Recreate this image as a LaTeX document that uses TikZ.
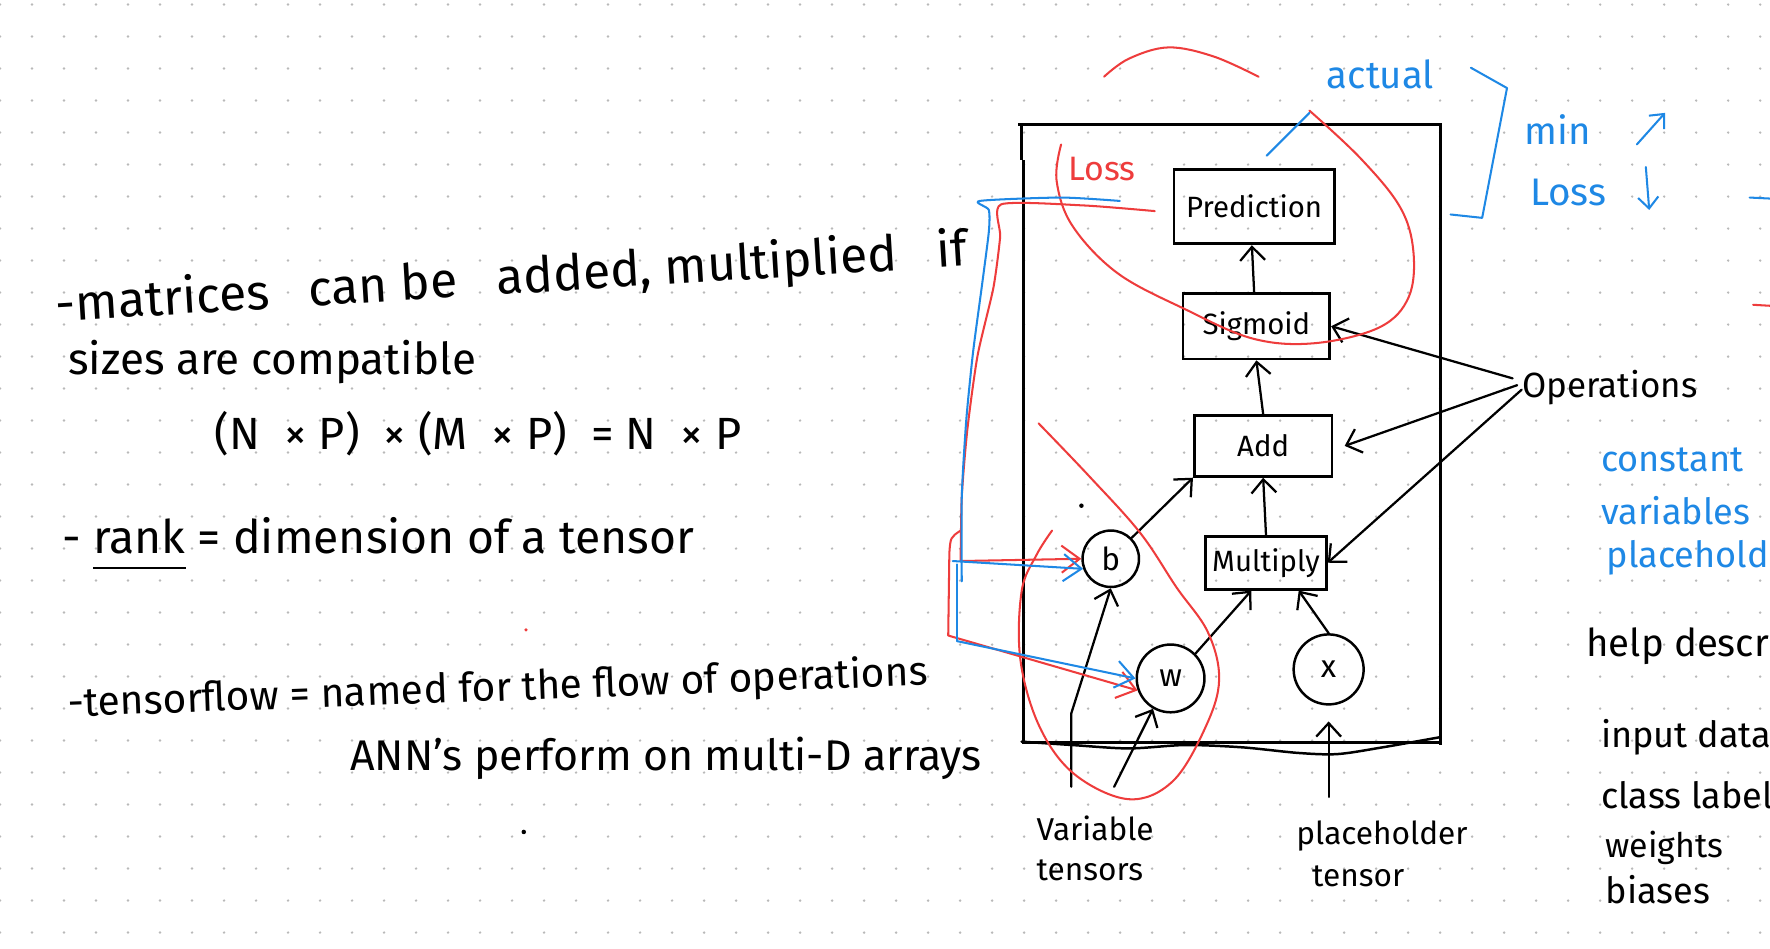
\documentclass[tikz,border=0pt]{standalone}
\usepackage{fontspec}
\setmainfont{Fira Sans}
\usetikzlibrary{arrows.meta}
\definecolor{inkblue}{RGB}{30,136,229}
\definecolor{inkred}{RGB}{238,60,60}
\definecolor{dotc}{RGB}{185,185,185}
\newcommand\myul[1]{\setbox0\hbox{#1}\rlap{\rule[-7pt]{\wd0}{0.9pt}}#1}
\begin{document}
\begin{tikzpicture}[x=0.5pt,y=-0.5pt,
  fs/.style={font=\fontsize{#1pt}{#1pt}\selectfont},
  txt/.style={inner sep=0pt, anchor=base west},
  ink/.style={line width=1pt, line cap=round, line join=round},
  redink/.style={ink, draw=inkred, line width=0.9pt},
  blueink/.style={ink, draw=inkblue, line width=0.9pt},
  arr/.style={ink, -{Straight Barb[length=6pt,width=11pt]}},
  carr/.style={-{Straight Barb[length=8pt,width=12pt]}},
  box/.style={draw, line width=1.2pt, inner sep=0pt, fs=13},
  circ/.style={draw, circle, line width=1.1pt, inner sep=0pt, fs=14},
  frame/.style={line width=1.3pt}
]
\useasboundingbox (0,0) rectangle (1568,840);
\clip (0,0) rectangle (1568,840);
\fill[white] (0,0) rectangle (1568,840);
% dot grid
\foreach \i in {0,...,56}{
  \foreach \j in {0,...,30}{
    \fill[dotc] (28.35*\i, 4+28.35*\j) circle (0.6pt);
  }
}
% left notes
\node[txt, fs=22, rotate=3.5] (l1) at (50,285) {-matrices\ \ \ can be\ \ \ added, multiplied\ \ \ if};
\node[txt, fs=19.5] (l2) at (60,332) {sizes are compatible};
\node[txt, fs=20] (l3) at (190,398) {(N\ \ × P)\ \ × (M\ \ × P)\ \ = N\ \ × P};
\node[txt, fs=20.5] (l4) at (55,490) {- \myul{rank} = dimension of a tensor};
\node[txt, fs=18, rotate=2.1] (l5) at (60,635) {-tensorflow = named for the flow of operations};
\node[txt, fs=19] (l6) at (310,683) {ANN's perform on multi-D arrays};
\fill (464,737) circle (1pt);
\fill[inkred] (466,558) circle (0.8pt);
\fill (958,448) circle (1pt);

% frame
\draw[frame] (902,110) -- (1276,110) -- (1276,660);
\draw[frame] (905,110) -- (905,142);
\draw[frame] (907,142) -- (907,658) -- (1276,658);
\draw[ink, line width=1.1pt] plot[smooth] coordinates {(905,657) (950,660) (1000,663) (1050,660) (1100,662) (1150,667) (1185,668) (1225,662) (1276,653)};

% graph nodes
\node[box, minimum width=71pt, minimum height=33pt] (pred) at (1111,183) {Prediction};
\node[box, minimum width=65pt, minimum height=29pt] (sig) at (1113,289) {Sigmoid};
\node[box, minimum width=61pt, minimum height=27pt] (add) at (1119,395) {Add};
\node[box, minimum width=53.5pt, minimum height=23.5pt] (mul) at (1121.5,498.5) {Multiply};
\node[circ, minimum size=25pt] (b) at (984,495) {b};
\node[circ, minimum size=30pt] (w) at (1037,601) {w};
\node[circ, minimum size=31pt] (x) at (1177,593) {x};

\draw[arr] ([xshift=-1pt]sig.north) -- ([xshift=-1pt]pred.south);
\draw[arr] (add.north) -- ([xshift=0pt]sig.south);
\draw[arr] (mul.north) -- (add.south);
\draw[arr] (b.north east) -- (add.south west);
\draw[arr] (w.north east) -- ([xshift=-6.5pt]mul.south);
\draw[arr] (x.north) -- ([xshift=14.5pt]mul.south);

% operations
\node[txt, fs=15.5] (ops) at (1348,352) {Operations};
\draw[arr] ([xshift=-4pt,yshift=4pt]ops.west) -- (sig.east);
\draw[arr] ([xshift=-2pt,yshift=1pt]ops.west) -- ([xshift=5pt]add.east);
\draw[arr] ([xshift=0pt,yshift=-1pt]ops.west) -- (mul.east);

% variable / placeholder labels
\node[txt, fs=14] (var) at (918,745) {Variable};
\node[txt, fs=14] (vart) at (918,780) {tensors};
\node[txt, fs=14] (ph) at (1148,748) {placeholder};
\node[txt, fs=14] (pht) at (1162,785) {tensor};
\coordinate (v1) at (949,697);
\coordinate (v1k) at (949,632);
\coordinate (v2) at (987,697);
\coordinate (p1) at (1177,706);
\draw[arr] (v1) -- (v1k) -- (b.south);
\draw[arr] (v2) -- (w.240);
\draw[arr, shorten >=7pt] (p1) -- (x.south);

% red annotations
\draw[redink] plot[smooth, tension=0.6] coordinates {(978,68) (1000,52) (1035,42) (1075,50) (1115,68)};
\draw[redink] plot[smooth, tension=0.6] coordinates {(1160,98) (1205,140) (1240,183) (1252,222) (1248,263) (1222,290) (1165,304) (1110,300) (1050,274) (990,242) (950,200) (936,160) (940,128)};
\draw[redink] plot[smooth, tension=0.6] coordinates {(920,375) (965,422) (1010,472) (1042,520) (1070,560) (1080,602) (1068,644) (1039,692) (1000,708) (952,686) (921,644) (904,585) (905,524) (918,492) (932,470)};
\node[txt, fs=15, text=inkred] (loss1) at (946,160) {Loss};
\draw[redink] plot[smooth, tension=0.4] coordinates {(1023,187) (960,182) (887,181) (886,210) (880,255) (866,315) (857,380) (852,440) (851,497)};
\coordinate (rb) at (851,497);
\draw[redink, carr] (rb) -- (b.west);
\coordinate (rw1) at (851,470);
\coordinate (rw2) at (840,563);
\draw[redink, carr] (rw1) .. controls (842,476) .. (841,490) -- (rw2) -- (w.200);

% blue annotations
\draw[blueink] plot[smooth, tension=0.4] coordinates {(992,178) (940,175) (868,178) (876,186) (876,205) (870,252) (862,312) (856,372) (852,440) (852,515)};
\coordinate (bb) at (844,497);
\draw[blueink, carr] (bb) -- (b.200);
\coordinate (bw) at (848,568);
\draw[blueink] (848,500) -- (bw);
\draw[blueink, carr] (bw) -- (w.180);
\coordinate (a1) at (1122,138);
\coordinate (a2) at (1160,100);
\draw[blueink] (a1) -- (a2);
\node[txt, fs=17, text=inkblue] (actual) at (1175,78) {actual};
\coordinate (k1) at (1303,60);
\coordinate (k2) at (1285,190);
\draw[blueink] (k1) -- (1335,78) -- (1313,193) -- (k2);
\node[txt, fs=17, text=inkblue] (min) at (1350,128) {min};
\node[txt, fs=17, text=inkblue] (loss2) at (1355,182) {Loss};
\coordinate (u1) at (1450,128);
\coordinate (u2) at (1475,100);
\coordinate (d1) at (1458,148);
\coordinate (d2) at (1461,186);
\draw[blueink, -{Straight Barb[length=5pt,width=9pt]}] (u1) -- (u2);
\draw[blueink, -{Straight Barb[length=5pt,width=9pt]}] (d1) -- (d2);
\coordinate (e1) at (1550,175);
\coordinate (e2) at (1570,176);
\draw[blueink] (e1) -- (e2);
\coordinate (e3) at (1553,270);
\coordinate (e4) at (1570,271);
\draw[redink] (e3) -- (e4);

% right notes (as much as the page shows)
\node[txt, fs=16, text=inkblue] (c1) at (1418,418) {constant};
\node[txt, fs=16, text=inkblue] (c2) at (1418,465) {variables};
\node[txt, fs=16, text=inkblue] (c3) at (1423,503) {placehold};
\node[txt, fs=17] (h1) at (1405,582) {help descr};
\node[txt, fs=16] (h2) at (1418,662) {input data};
\node[txt, fs=16] (h3) at (1418,716) {class label};
\node[txt, fs=15] (h4) at (1422,760) {weights};
\node[txt, fs=16] (h5) at (1422,800) {biases};
\end{tikzpicture}
\end{document}
